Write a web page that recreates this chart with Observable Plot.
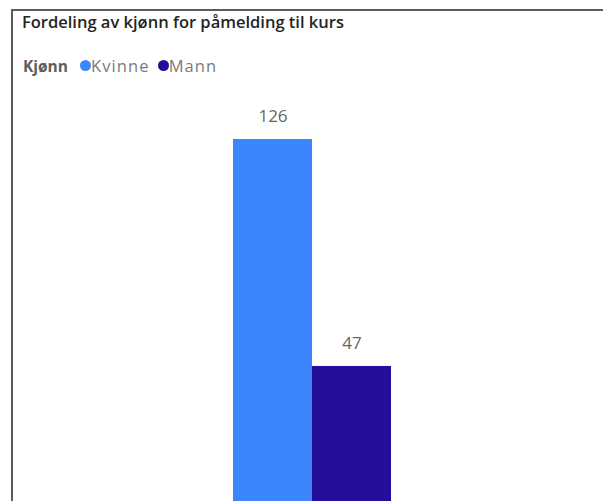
<!DOCTYPE html>
<html>
<head>
<meta charset="utf-8">
<script src="https://cdn.jsdelivr.net/npm/d3@7"></script>
<script src="https://cdn.jsdelivr.net/npm/@observablehq/plot@0.6"></script>
<style>
  html, body { margin: 0; padding: 0; background: #fff; width: 603px; height: 501px; overflow: hidden; }
  #frame { position: absolute; left: 11px; top: 9px; width: 620px; height: 520px; border-left: 2px solid #5c5c5c; border-top: 2px solid #5c5c5c; }
  #title { position: absolute; left: 22px; top: 10px; font-family: "Open Sans", sans-serif; font-weight: 600; font-size: 16.5px; color: #252423; white-space: nowrap; }
  #legend { position: absolute; left: 23px; top: 54px; font-family: "Open Sans", sans-serif; font-size: 16.5px; color: #7a7a7a; display: flex; align-items: center; white-space: nowrap; }
  #legend .lt { font-weight: 700; color: #605e5c; margin-right: 12px; font-size: 15.5px; }
  #legend .sw { width: 11px; height: 11px; border-radius: 50%; display: inline-block; margin-right: 0px; }
  #legend .it { display: flex; align-items: center; margin-right: 8px; letter-spacing: 1.1px; }
  #chart { position: absolute; left: 0; top: 90px; }
</style>
</head>
<body>
<div id="frame"></div>
<div id="title"></div>
<div id="legend"></div>
<div id="chart"></div>
<script>
const title = "Fordeling av kjønn for påmelding til kurs";
const legendTitle = "Kjønn";
const categories = ["Kvinne", "Mann"];
const values = [126, 47];
const colors = ["#3b86fc", "#230f99"];

document.getElementById("title").textContent = title;
const lg = document.getElementById("legend");
const lt = document.createElement("span");
lt.className = "lt"; lt.textContent = legendTitle; lg.appendChild(lt);
categories.forEach((c, i) => {
  const it = document.createElement("span"); it.className = "it";
  const sw = document.createElement("span"); sw.className = "sw"; sw.style.background = colors[i];
  const tx = document.createElement("span"); tx.textContent = c;
  it.appendChild(sw); it.appendChild(tx); lg.appendChild(it);
});

const data = categories.map((c, i) => ({kjonn: c, antall: values[i]}));

const chart = Plot.plot({
  width: 603,
  height: 411,
  margin: 0,
  x: {domain: categories, range: [233, 391], padding: 0, axis: null},
  y: {domain: [0, 126], range: [411, 49], axis: null},
  color: {domain: categories, range: colors},
  style: {background: "transparent", overflow: "visible"},
  marks: [
    Plot.barY(data, {x: "kjonn", y: "antall", fill: "kjonn"}),
    Plot.text(data, {x: "kjonn", y: "antall", text: d => String(d.antall), dy: -23, fill: "#666666", fontSize: 17, fontFamily: "Open Sans, sans-serif"})
  ]
});
document.getElementById("chart").appendChild(chart);
</script>
</body>
</html>
